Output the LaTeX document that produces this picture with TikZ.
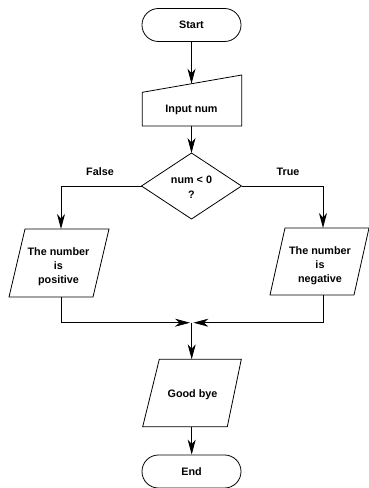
\documentclass[tikz,border=0pt]{standalone}
\usepackage{fontspec}
\setmainfont{Liberation Sans}
\usetikzlibrary{arrows.meta}
\begin{document}
\begin{tikzpicture}[x=1pt,y=-1pt,line width=0.8pt,
  lbl/.style={font=\fontsize{10.8}{14}\selectfont\bfseries,align=center,inner sep=0pt},
  term/.style={draw,rounded corners=16.4pt,minimum width=99pt,minimum height=33pt,inner sep=0pt,
    font=\fontsize{10.8}{14}\selectfont\bfseries},
  shp/.style={draw,line join=miter},
  arr/.style={-{Stealth[length=15pt,width=8pt,inset=4.5pt]}}]
\useasboundingbox (0,0) rectangle (368,488);

% Start / End
\node[term] (start) at (191.5,25) {Start};
\node[term] (end) at (191.5,471.5) {End};

% Input (manual input shape)
\draw[shp] (142.3,92.3) -- (241.7,75) -- (241.7,126) -- (142.3,126) -- cycle;
\node[lbl] (input) at (191.5,110) {Input num};
\coordinate (inTop) at (191.5,83.7);
\coordinate (inBot) at (191.5,126);

% Decision
\draw[shp] (191.5,153) -- (241.5,186) -- (191.5,219) -- (141.5,186) -- cycle;
\node[lbl,font=\fontsize{10.8}{15}\selectfont\bfseries] (dec) at (191.5,187.5) {num < 0\\?};
\coordinate (dTop) at (191.5,153);
\coordinate (dL) at (141.5,186);
\coordinate (dR) at (241.5,186);
\node[lbl] (false) at (100,172) {False};
\node[lbl] (true) at (288,172) {True};

% Left output
\draw[shp] (25,229) -- (109,229) -- (93,297) -- (9,297) -- cycle;
\node[lbl] (pos) at (58.5,266.5) {The number\\is\\positive};
\coordinate (posTop) at (61,229);
\coordinate (posBot) at (61,297);

% Right output
\draw[shp] (285,228) -- (369,228) -- (354,295) -- (270,295) -- cycle;
\node[lbl] (neg) at (320,265.5) {The number\\is\\negative};
\coordinate (negTop) at (323,228);
\coordinate (negBot) at (323,295);

% Junction
\coordinate (jL) at (190,322.7);
\coordinate (jR) at (193.4,322.7);
\coordinate (j) at (191.7,322.7);

% Good bye
\draw[shp] (159.3,359.3) -- (241.3,359.3) -- (227.3,426.7) -- (142.7,426.7) -- cycle;
\node[lbl] (bye) at (192.5,395) {Good bye};
\coordinate (byeTop) at (191.7,359.3);
\coordinate (byeBot) at (191.7,426.7);

% Connectors
\draw[arr] (start.south) -- (inTop);
\draw[arr] (inBot) -- (dTop);
\draw[arr] (dL) -| (posTop);
\draw[arr] (dR) -| (negTop);
\draw[arr] (posBot) |- (jL);
\draw[arr] (negBot) |- (jR);
\draw[arr] (j) -- (byeTop);
\draw[arr] (byeBot) -- (byeBot |- end.north);
\end{tikzpicture}
\end{document}
